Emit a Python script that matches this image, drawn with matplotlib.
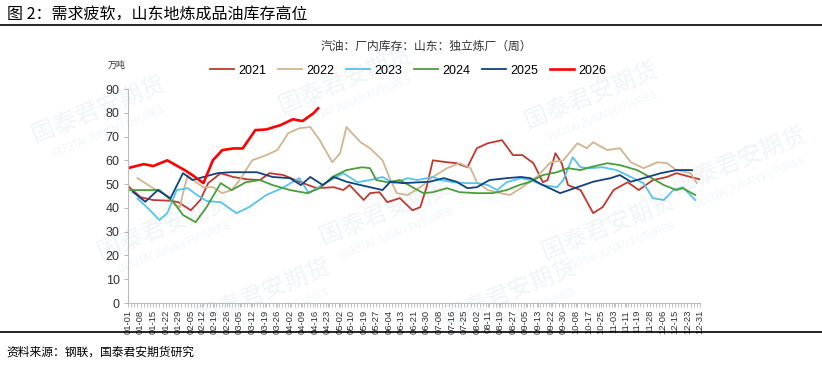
import matplotlib
matplotlib.use("Agg")
import matplotlib.pyplot as plt

plt.rcParams['font.family'] = ['Liberation Sans', 'Noto Sans CJK SC', 'DejaVu Sans']

# x positions are day of year (0 = 01-01)
tick_labels = ['01-01', '01-08', '01-15', '01-22', '01-29', '02-05', '02-12', '02-19', '02-26',
               '03-05', '03-12', '03-19', '03-26', '04-02', '04-09', '04-16', '04-23', '05-02',
               '05-10', '05-19', '05-27', '06-04', '06-13', '06-21', '06-30', '07-08', '07-16',
               '07-25', '08-02', '08-11', '08-19', '08-27', '09-05', '09-13', '09-22', '09-30',
               '10-08', '10-17', '10-25', '11-03', '11-11', '11-19', '11-28', '12-06', '12-15',
               '12-23', '12-31']

days_2021 = [0, 8, 16, 27, 32, 40, 46, 51, 59, 67, 76, 84, 90, 99, 109, 120, 131, 137, 141, 150,
             154, 160, 165, 173, 181, 186, 190, 194, 203, 209, 216, 222, 229, 238, 245, 251, 258,
             264, 267, 272, 276, 280, 288, 296, 302, 309, 318, 325, 334, 343, 349, 358, 364]
vals_2021 = [49.2, 44.5, 43.3, 43.0, 42.4, 39.0, 43.3, 50.4, 54.6, 53.0, 52.0, 51.7, 54.6, 53.8,
             51.0, 48.3, 48.7, 47.5, 49.6, 43.3, 46.2, 46.6, 42.4, 44.1, 39.0, 40.3, 48.7, 60.0,
             59.2, 58.8, 57.1, 65.1, 67.2, 68.5, 62.2, 62.2, 58.8, 50.8, 51.7, 63.0, 58.8, 49.6,
             47.5, 37.8, 40.3, 47.5, 50.8, 47.5, 51.7, 53.0, 54.6, 53.0, 52.0]

days_2022 = [6, 16, 24, 30, 33, 35, 38, 44, 48, 54, 60, 66, 71, 79, 88, 95, 102, 109, 116, 122,
             130, 135, 139, 148, 154, 162, 167, 171, 178, 186, 194, 203, 211, 218, 222, 229, 237,
             243, 251, 260, 269, 277, 286, 292, 296, 305, 313, 320, 328, 337, 343, 349, 358, 362]
vals_2022 = [52.5, 48.3, 45.4, 41.2, 40.3, 46.2, 53.8, 50.4, 48.7, 48.7, 46.2, 47.5, 51.7, 60.0,
             62.2, 64.3, 71.4, 73.5, 74.0, 68.5, 59.2, 63.0, 74.0, 67.6, 65.1, 60.0, 51.7, 46.2,
             45.4, 48.7, 53.0, 56.7, 58.8, 56.7, 50.8, 47.5, 46.2, 45.4, 48.7, 53.0, 59.2, 60.0,
             67.2, 65.1, 67.6, 64.3, 65.1, 59.2, 56.7, 59.2, 58.8, 55.9, 54.6, 50.4]

days_2023 = [6, 14, 20, 25, 31, 38, 44, 50, 59, 69, 77, 88, 98, 109, 115, 122, 129, 137, 146,
             154, 162, 169, 178, 184, 194, 199, 207, 216, 222, 229, 235, 241, 250, 256, 264, 273,
             277, 283, 288, 294, 302, 311, 320, 328, 334, 341, 347, 353, 361]
vals_2023 = [44.0, 39.0, 34.9, 37.8, 47.5, 48.3, 45.4, 42.9, 42.4, 37.8, 40.3, 45.4, 48.3, 52.5,
             46.2, 49.0, 51.7, 54.6, 50.8, 51.7, 53.0, 50.4, 52.5, 51.7, 53.0, 51.7, 50.8, 50.4,
             50.4, 49.6, 47.5, 50.8, 52.5, 51.7, 49.6, 48.7, 51.7, 61.3, 57.1, 56.7, 57.1, 55.9,
             53.0, 50.4, 44.1, 43.3, 47.5, 48.7, 43.3]

days_2024 = [1, 14, 20, 29, 35, 43, 50, 59, 66, 75, 84, 92, 103, 114, 122, 130, 139, 149, 154,
             158, 165, 173, 181, 188, 194, 203, 211, 222, 232, 241, 249, 256, 264, 273, 280, 288,
             294, 305, 313, 324, 332, 341, 349, 353, 361]
vals_2024 = [47.5, 47.5, 47.5, 42.4, 37.0, 34.0, 40.3, 50.4, 47.5, 50.8, 51.7, 49.6, 47.5, 46.2,
             48.3, 53.0, 55.9, 57.1, 56.7, 51.7, 50.8, 51.7, 48.7, 46.2, 46.6, 48.3, 46.6, 46.2,
             46.2, 47.5, 49.6, 51.0, 53.8, 55.0, 56.7, 55.9, 57.1, 58.8, 58.0, 55.9, 53.0, 49.6,
             47.5, 48.3, 45.4]

days_2025 = [3, 11, 19, 27, 35, 41, 48, 57, 65, 82, 92, 103, 110, 116, 124, 131, 139, 148, 162,
             167, 175, 192, 201, 209, 216, 222, 230, 241, 250, 256, 264, 275, 286, 296, 307, 313,
             320, 328, 339, 349, 359]
vals_2025 = [46.8, 42.6, 47.5, 44.0, 54.6, 51.7, 53.0, 54.6, 55.0, 55.0, 53.0, 52.5, 49.6, 53.0,
             49.6, 53.0, 51.0, 49.6, 47.5, 51.0, 50.4, 51.0, 52.5, 51.0, 48.3, 48.7, 51.7, 52.5,
             53.0, 52.5, 49.6, 46.2, 48.7, 51.0, 52.5, 53.8, 51.0, 52.5, 54.6, 55.9, 55.9]

days_2026 = [1, 10, 16, 25, 36, 41, 48, 54, 60, 67, 73, 81, 88, 97, 105, 111, 118, 121]
vals_2026 = [56.9, 58.4, 57.6, 60.0, 55.9, 53.8, 50.4, 60.0, 64.3, 65.0, 65.0, 72.7, 73.0, 74.8,
             77.3, 76.5, 79.8, 81.9]

series = [
    ('2021', days_2021, vals_2021, '#C0392F', 1.3),
    ('2022', days_2022, vals_2022, '#D4B48F', 1.3),
    ('2023', days_2023, vals_2023, '#55C3F0', 1.3),
    ('2024', days_2024, vals_2024, '#4A9E3A', 1.3),
    ('2025', days_2025, vals_2025, '#11427E', 1.3),
    ('2026', days_2026, vals_2026, '#FF0000', 1.9),
]

fig = plt.figure(figsize=(8.22, 3.65), dpi=100)
ax = fig.add_axes([128 / 822, 1 - 303 / 365, 572 / 822, 214 / 365])

# faint watermarks, drawn behind the axes
wm_pos = [(0.12, 0.70), (0.42, 0.78), (0.72, 0.74), (0.20, 0.38), (0.47, 0.42),
          (0.74, 0.38), (0.90, 0.56), (0.32, 0.20), (0.62, 0.20)]
for wx, wy in wm_pos:
    fig.text(wx, wy, '国泰君安期货', fontsize=17, color='#F1F4F7', rotation=22,
             ha='center', va='center', family=['Noto Sans CJK SC'], zorder=-1)
    fig.text(wx + 0.012, wy - 0.06, 'GUOTAI JUNAN FUTURES', fontsize=7, color='#F1F4F7',
             rotation=22, ha='center', va='center', zorder=-1)

for name, d, v, c, lw in series:
    ax.plot(d, v, color=c, lw=lw, label=name, solid_joinstyle='round')

ax.set_xlim(0, 364)
ax.set_ylim(0, 90)
ax.set_yticks(range(0, 91, 10))
tick_pos = [round(i * 364 / (len(tick_labels) - 1)) for i in range(len(tick_labels))]
ax.set_xticks(tick_pos)
ax.set_xticklabels(tick_labels, rotation=90, fontsize=6.8, color='#333333')
ax.set_xticks(range(0, 365, 2), minor=True)
ax.tick_params(axis='x', which='both', length=3, width=0.5, color='#AAAAAA', pad=2)
ax.tick_params(axis='y', length=3, width=0.6, color='#AAAAAA', labelsize=9, pad=3,
               labelcolor='#333333')
for s in ['top', 'right']:
    ax.spines[s].set_visible(False)
ax.spines['left'].set_color('#BBBBBB')
ax.spines['bottom'].set_color('#BBBBBB')
ax.patch.set_alpha(0)

ax.legend(loc='center', bbox_to_anchor=(0.49, 1.085), ncol=6, frameon=False, fontsize=9,
          handlelength=1.9, columnspacing=0.9, handletextpad=0.4)

ax.text(-0.02, 1.11, '万吨', transform=ax.transAxes, fontsize=6.5, color='#333333',
        ha='center', va='center', family=['Noto Sans CJK SC'])

fig.text(0.008, 0.962, '图 2：需求疲软，山东地炼成品油库存高位', fontsize=11.5, va='center',
         family=['Noto Sans CJK SC', 'DejaVu Sans'])
fig.add_artist(plt.Line2D([0, 1], [1 - 25 / 365, 1 - 25 / 365], color='black', lw=1.2))
fig.text(426 / 822, 1 - 46 / 365, '汽油：厂内库存：山东：独立炼厂（周）', fontsize=8.5,
         ha='center', va='center', color='#333333', family=['Noto Sans CJK SC'])
fig.add_artist(plt.Line2D([0, 1], [1 - 332 / 365, 1 - 332 / 365], color='black', lw=1.2))
fig.text(0.008, 1 - 352 / 365, '资料来源：钢联，国泰君安期货研究', fontsize=8.5, va='center',
         family=['Noto Sans CJK SC'])

fig.savefig('out.png', dpi=100)
